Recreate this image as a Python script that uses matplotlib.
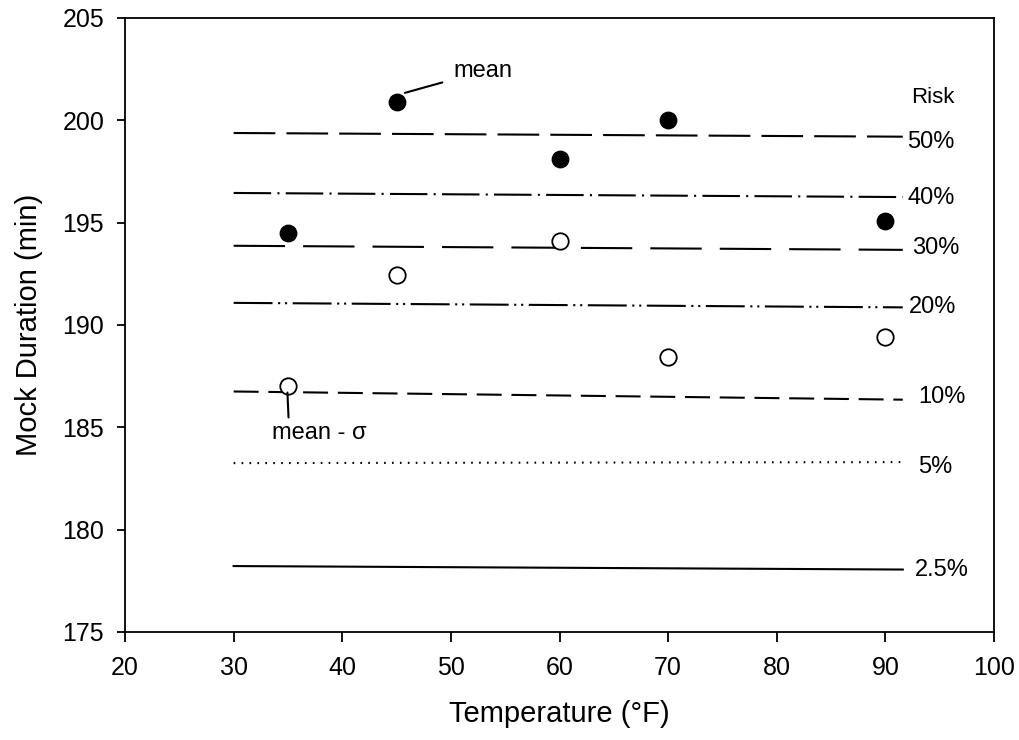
import matplotlib.pyplot as plt

# 資料
temps = [35, 45, 60, 70, 90]
mean_vals = [194.5, 200.9, 198.1, 200.0, 195.1]
mean_minus_sigma = [187.0, 192.45, 194.1, 188.45, 189.4]

risk_labels = ["50%", "40%", "30%", "20%", "10%", "5%", "2.5%"]
risk_start = [199.38, 196.45, 193.87, 191.08, 186.75, 183.25, 178.22]
risk_end = [199.2, 196.25, 193.67, 190.86, 186.35, 183.3, 178.05]
risk_x = [30, 91.6]

# 標籤位置 (資料座標)
label_x = [92.0, 92.0, 92.5, 92.2, 93.0, 93.0, 92.7]
label_y = [198.95, 196.2, 193.77, 190.89, 186.5, 183.08, 178.05]

plt.rcParams["font.family"] = ["Liberation Sans", "DejaVu Sans"]
plt.rcParams["lines.scale_dashes"] = False

fig = plt.figure(figsize=(10.19, 7.4), dpi=100)
ax = fig.add_axes([0.1227, 0.146, 0.8528, 0.8297])

# 各風險線的線型
styles = [
    (0, (30, 8)),
    (0, (27, 4.5, 1.5, 4.5)),
    (0, (37, 13)),
    (0, (28, 4, 1.5, 3.5, 1.5, 4)),
    (0, (18, 7)),
    (0, (1.2, 4.5)),
    "-",
]

for i in range(len(risk_labels)):
    ax.plot(risk_x, [risk_start[i], risk_end[i]], color="black", lw=1.5,
            linestyle=styles[i])

for i, lab in enumerate(risk_labels):
    ax.text(label_x[i], label_y[i], lab, fontsize=17, ha="left", va="center")
ax.text(92.4, 201.1, "Risk", fontsize=16, ha="left", va="center")

ax.scatter(temps, mean_vals, s=140, color="black", zorder=3)
ax.scatter(temps, mean_minus_sigma, s=140, facecolor="white", edgecolor="black",
           linewidth=1.3, zorder=3)

ax.annotate("mean", xy=(45.76, 201.34), xytext=(50.2, 202.4), fontsize=17,
            va="center", ha="left",
            arrowprops=dict(arrowstyle="-", color="black", lw=1.5,
                            shrinkA=6, shrinkB=0))
ax.annotate("mean - σ", xy=(34.95, 186.7), xytext=(33.5, 184.74), fontsize=17,
            va="center", ha="left",
            arrowprops=dict(arrowstyle="-", color="black", lw=1.5,
                            relpos=(0.18, 1.0), shrinkA=1, shrinkB=0))

ax.set_xlim(20, 100)
ax.set_ylim(175, 205)
ax.set_xticks(range(20, 101, 10))
ax.set_yticks(range(175, 206, 5))
ax.tick_params(direction="out", width=1.3, labelsize=18)
ax.tick_params(axis="x", length=7, pad=10)
ax.tick_params(axis="y", length=6, pad=9)
for sp in ax.spines.values():
    sp.set_linewidth(1.3)

ax.set_xlabel("Temperature (°F)", fontsize=21, labelpad=15)
ax.set_ylabel("Mock Duration (min)", fontsize=21, labelpad=14)

fig.savefig("out.png", dpi=100)
